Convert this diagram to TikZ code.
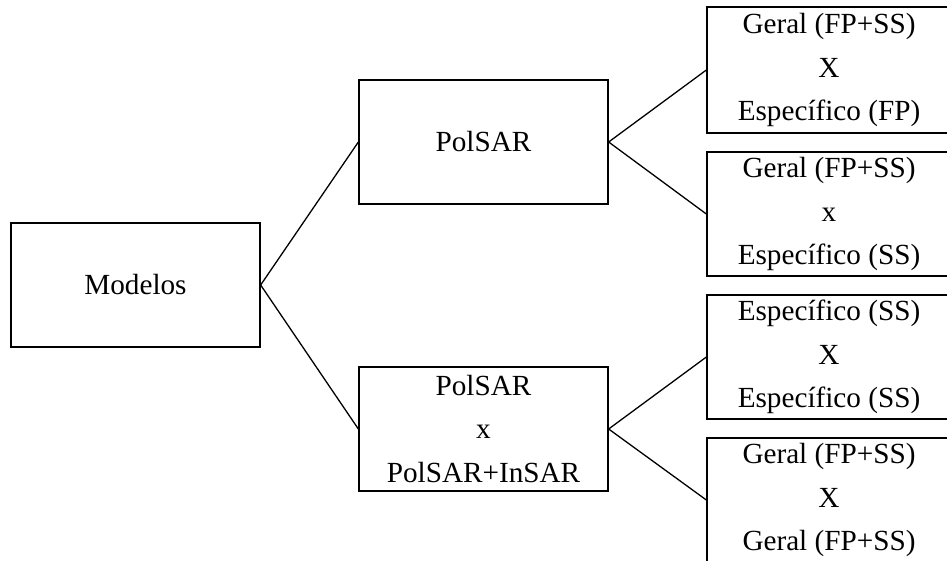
\documentclass[tikz,border=0pt]{standalone}
\usepackage{fontspec}
\setmainfont{Liberation Serif}
\usepackage{tikz}
\usetikzlibrary{positioning}

\begin{document}
\begin{tikzpicture}[x=1pt, y=-1pt,
    caixa/.style={draw, line width=1.3pt, inner sep=0pt, align=center,
        minimum height=124pt, font=\fontsize{29.2}{43.5}\selectfont},
    ramo/.style={line width=1.3pt}]
    % Page frame
    \useasboundingbox (0,0) rectangle (947,560);

    % Root
    \node[caixa, minimum width=249pt] (modelos) at (135.5,285) {Modelos};

    % Middle level
    \node[caixa, minimum width=249pt] (polsar) at (483.5,142) {PolSAR};
    \node[caixa, minimum width=249pt] (polinsar) at (483.5,429) {PolSAR\\x\\PolSAR+InSAR};

    % Right column
    \node[caixa, minimum width=244pt, minimum height=126pt] (gerfp) at (829,70) {Geral (FP+SS)\\X\\Específico (FP)};
    \node[caixa, minimum width=244pt] (gerss) at (829,214) {Geral (FP+SS)\\x\\Específico (SS)};
    \node[caixa, minimum width=244pt] (espss) at (829,357) {Específico (SS)\\X\\Específico (SS)};
    \node[caixa, minimum width=244pt] (gerger) at (829,500) {Geral (FP+SS)\\X\\Geral (FP+SS)};

    % Connectors
    \draw[ramo] (modelos.east) -- (polsar.west);
    \draw[ramo] (modelos.east) -- (polinsar.west);
    \draw[ramo] (polsar.east) -- (gerfp.west);
    \draw[ramo] (polsar.east) -- (gerss.west);
    \draw[ramo] (polinsar.east) -- (espss.west);
    \draw[ramo] (polinsar.east) -- (gerger.west);
\end{tikzpicture}
\end{document}
